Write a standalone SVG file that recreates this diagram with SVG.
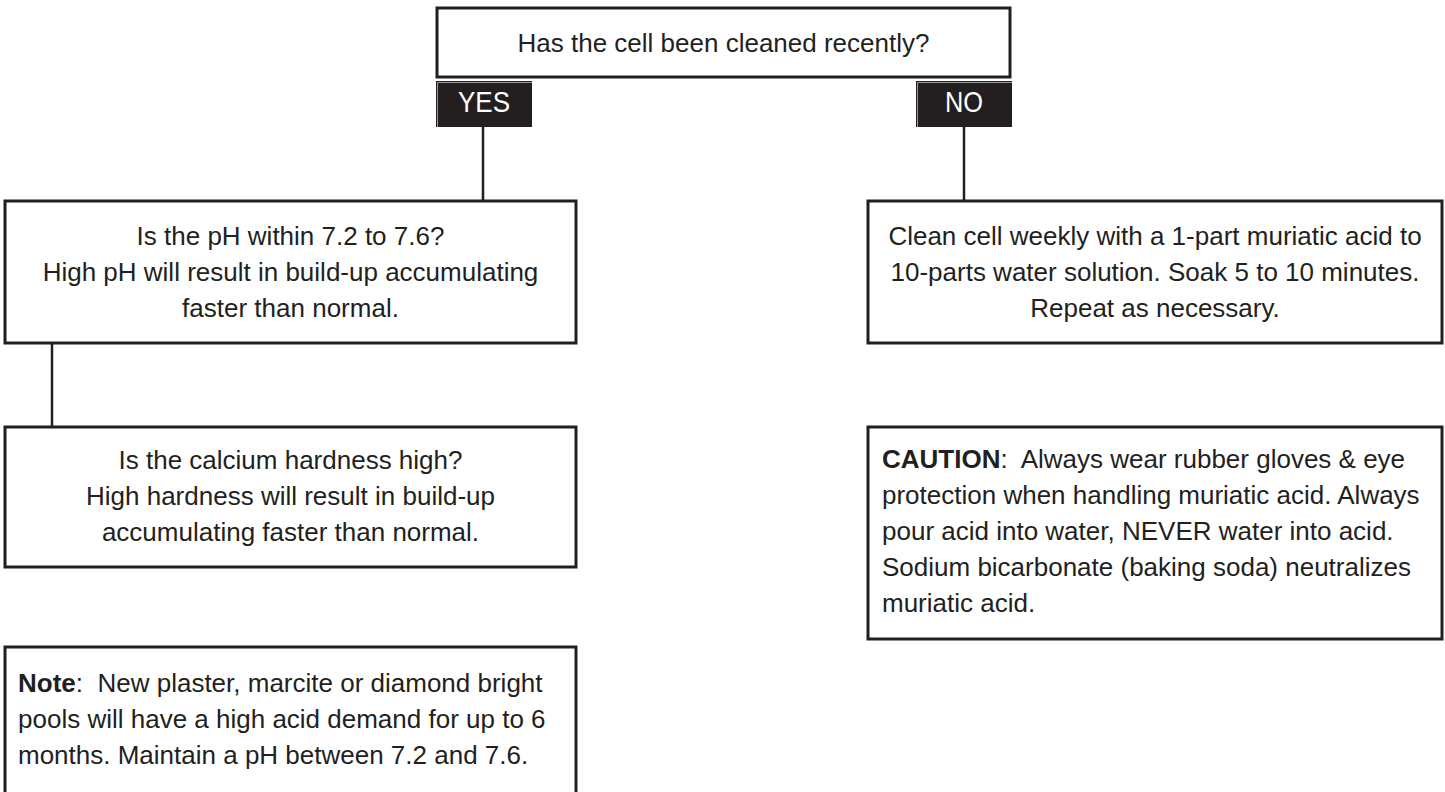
<svg xmlns="http://www.w3.org/2000/svg" width="1445" height="792" viewBox="0 0 1445 792">
<style>
.box{fill:#fff;stroke:#231f20;stroke-width:3}
.tab{fill:#231f20}
.hl{fill:none;stroke:#9a9a9a;stroke-width:1}
.t{font-family:"Liberation Sans",Arial,sans-serif;font-size:26px;fill:#231f20}
.c{text-anchor:middle}
.tt{font-family:"Liberation Sans",Arial,sans-serif;font-size:30px;fill:#fff;text-anchor:middle}
.b{font-weight:bold}
.ln{stroke:#231f20;stroke-width:2.5;fill:none}
</style>
<rect width="1445" height="792" fill="#fff"/>
<g id="connectors">
<line class="ln" x1="483" y1="127" x2="483" y2="201"/>
<line class="ln" x1="964" y1="127" x2="964" y2="201"/>
<line class="ln" x1="52" y1="343" x2="52" y2="427"/>
</g>
<g id="q-cleaned">
<rect class="box" x="437" y="8" width="573" height="69"/>
<text class="t c" x="723.5" y="52">Has the cell been cleaned recently?</text>
</g>
<g id="tab-yes">
<rect class="tab" x="436" y="81" width="96" height="46"/>
<path class="hl" d="M437.5,127 V82.5 H532"/>
<text class="tt" x="484" y="112" textLength="52" lengthAdjust="spacingAndGlyphs">YES</text>
</g>
<g id="tab-no">
<rect class="tab" x="916" y="81" width="96" height="46"/>
<path class="hl" d="M917.5,127 V82.5 H1012"/>
<text class="tt" x="964" y="112" textLength="38" lengthAdjust="spacingAndGlyphs">NO</text>
</g>
<g id="q-ph">
<rect class="box" x="5" y="201" width="571" height="142"/>
<text class="t c" x="290.5" y="245">Is the pH within 7.2 to 7.6?</text>
<text class="t c" x="290.5" y="281">High pH will result in build-up accumulating</text>
<text class="t c" x="290.5" y="317">faster than normal.</text>
</g>
<g id="clean-cell">
<rect class="box" x="868" y="201" width="574" height="142"/>
<text class="t c" x="1155" y="245">Clean cell weekly with a 1-part muriatic acid to</text>
<text class="t c" x="1155" y="281">10-parts water solution. Soak 5 to 10 minutes.</text>
<text class="t c" x="1155" y="317">Repeat as necessary.</text>
</g>
<g id="q-calcium">
<rect class="box" x="5" y="427" width="571" height="140"/>
<text class="t c" x="290.5" y="469">Is the calcium hardness high?</text>
<text class="t c" x="290.5" y="505">High hardness will result in build-up</text>
<text class="t c" x="290.5" y="541">accumulating faster than normal.</text>
</g>
<g id="caution">
<rect class="box" x="868" y="427" width="574" height="212"/>
<text class="t" x="882" y="468" xml:space="preserve"><tspan class="b">CAUTION</tspan>:  Always wear rubber gloves &amp; eye</text>
<text class="t" x="882" y="504">protection when handling muriatic acid. Always</text>
<text class="t" x="882" y="540">pour acid into water, NEVER water into acid.</text>
<text class="t" x="882" y="576">Sodium bicarbonate (baking soda) neutralizes</text>
<text class="t" x="882" y="612">muriatic acid.</text>
</g>
<g id="note">
<rect class="box" x="5" y="647" width="571" height="160"/>
<text class="t" x="18" y="692" xml:space="preserve"><tspan class="b">Note</tspan>:  New plaster, marcite or diamond bright</text>
<text class="t" x="18" y="728">pools will have a high acid demand for up to 6</text>
<text class="t" x="18" y="764">months. Maintain a pH between 7.2 and 7.6.</text>
</g>
</svg>
